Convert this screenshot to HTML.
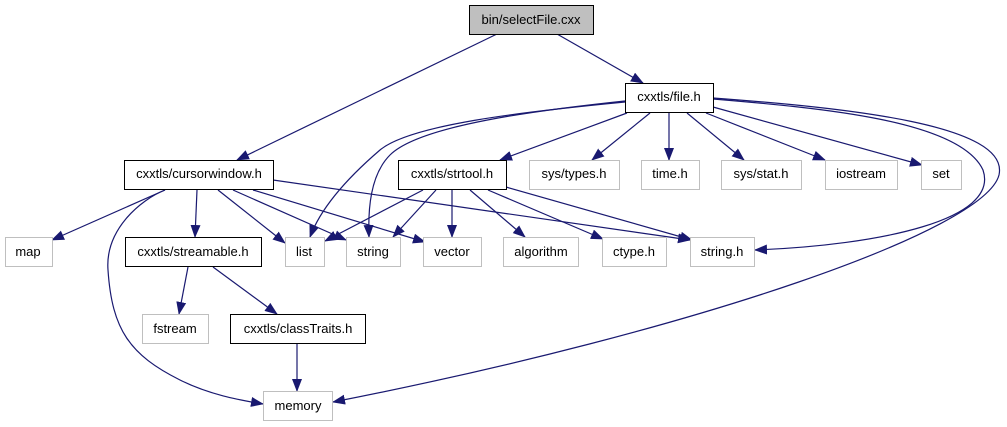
<!DOCTYPE html>
<html><head><meta charset="utf-8"><style>
html,body{margin:0;padding:0;background:#fff;}
svg{display:block;font-family:"Liberation Sans",sans-serif;font-size:13px;}
</style></head><body>
<svg width="1007" height="427" viewBox="0 0 1007 427" xmlns="http://www.w3.org/2000/svg">
<defs>
<marker id="a" markerUnits="userSpaceOnUse" markerWidth="14" markerHeight="11" refX="12" refY="5" orient="auto">
<path d="M0,0 L13,5 L0,10 Z" fill="#191970"/>
</marker>
</defs>
<g fill="none" stroke="#191970" stroke-width="1.2" marker-end="url(#a)">
<path d="M497,34 L237,160"/>
<path d="M557,34 L643,83"/>
<path d="M627,113 L500,160"/>
<path d="M650,113 L592,160"/>
<path d="M669,113 L669,160"/>
<path d="M687,113 L744,160"/>
<path d="M706,113 L825,160"/>
<path d="M713,107 L922,165"/>
<path d="M625,102 C520,112 410,125 380,150 C345,180 320,210 310,237"/>
<path d="M625,101 C540,110 420,125 390,155 C370,175 368,210 369,237"/>
<path d="M713,99 C820,108 960,120 983,170 C1000,220 880,245 755,250"/>
<path d="M713,98 C850,108 1010,125 999,175 C985,230 700,330 333,402"/>
<path d="M165,190 L52,240"/>
<path d="M165,190 C140,200 105,230 108,270 C112,330 130,355 180,380 C210,395 240,400 263,404"/>
<path d="M197,190 L195,237"/>
<path d="M218,190 L285,243"/>
<path d="M233,190 L346,240"/>
<path d="M253,190 L425,242"/>
<path d="M273,180 L690,240"/>
<path d="M423,190 L325,241"/>
<path d="M436,190 L393,237"/>
<path d="M452,190 L452,237"/>
<path d="M470,190 L525,237"/>
<path d="M488,190 L603,239"/>
<path d="M506,187 L692,240"/>
<path d="M188,267 L179,314"/>
<path d="M213,267 L277,314"/>
<path d="M297,344 L297,391"/>
</g>
<g stroke-width="1">
<rect x="469.5" y="5.5" width="124" height="29" fill="#bfbfbf" stroke="#000"/>
<rect x="625.5" y="83.5" width="88" height="29" fill="#fff" stroke="#000"/>
<rect x="124.5" y="160.5" width="149" height="29" fill="#fff" stroke="#000"/>
<rect x="398.5" y="160.5" width="108" height="29" fill="#fff" stroke="#000"/>
<rect x="125.5" y="237.5" width="136" height="29" fill="#fff" stroke="#000"/>
<rect x="230.5" y="314.5" width="135" height="29" fill="#fff" stroke="#000"/>
<g fill="#fff" stroke="#bfbfbf">
<rect x="529.5" y="160.5" width="90" height="29"/>
<rect x="641.5" y="160.5" width="58" height="29"/>
<rect x="721.5" y="160.5" width="80" height="29"/>
<rect x="825.5" y="160.5" width="72" height="29"/>
<rect x="921.5" y="160.5" width="40" height="29"/>
<rect x="5.5" y="237.5" width="47" height="29"/>
<rect x="285.5" y="237.5" width="39" height="29"/>
<rect x="346.5" y="237.5" width="54" height="29"/>
<rect x="423.5" y="237.5" width="58" height="29"/>
<rect x="503.5" y="237.5" width="75" height="29"/>
<rect x="602.5" y="237.5" width="64" height="29"/>
<rect x="690.5" y="237.5" width="64" height="29"/>
<rect x="142.5" y="314.5" width="66" height="29"/>
<rect x="263.5" y="391.5" width="69" height="29"/>
</g>
</g>
<g fill="#000" text-anchor="middle">
<text x="531" y="24">bin/selectFile.cxx</text>
<text x="669" y="101">cxxtls/file.h</text>
<text x="199" y="178">cxxtls/cursorwindow.h</text>
<text x="452" y="178">cxxtls/strtool.h</text>
<text x="574" y="178">sys/types.h</text>
<text x="670" y="178">time.h</text>
<text x="761" y="178">sys/stat.h</text>
<text x="861" y="178">iostream</text>
<text x="941" y="178">set</text>
<text x="28" y="256">map</text>
<text x="193" y="256">cxxtls/streamable.h</text>
<text x="304" y="256">list</text>
<text x="373" y="256">string</text>
<text x="452" y="256">vector</text>
<text x="541" y="256">algorithm</text>
<text x="634" y="256">ctype.h</text>
<text x="722" y="256">string.h</text>
<text x="175" y="333">fstream</text>
<text x="298" y="333">cxxtls/classTraits.h</text>
<text x="298" y="410">memory</text>
</g>
</svg>
</body></html>
